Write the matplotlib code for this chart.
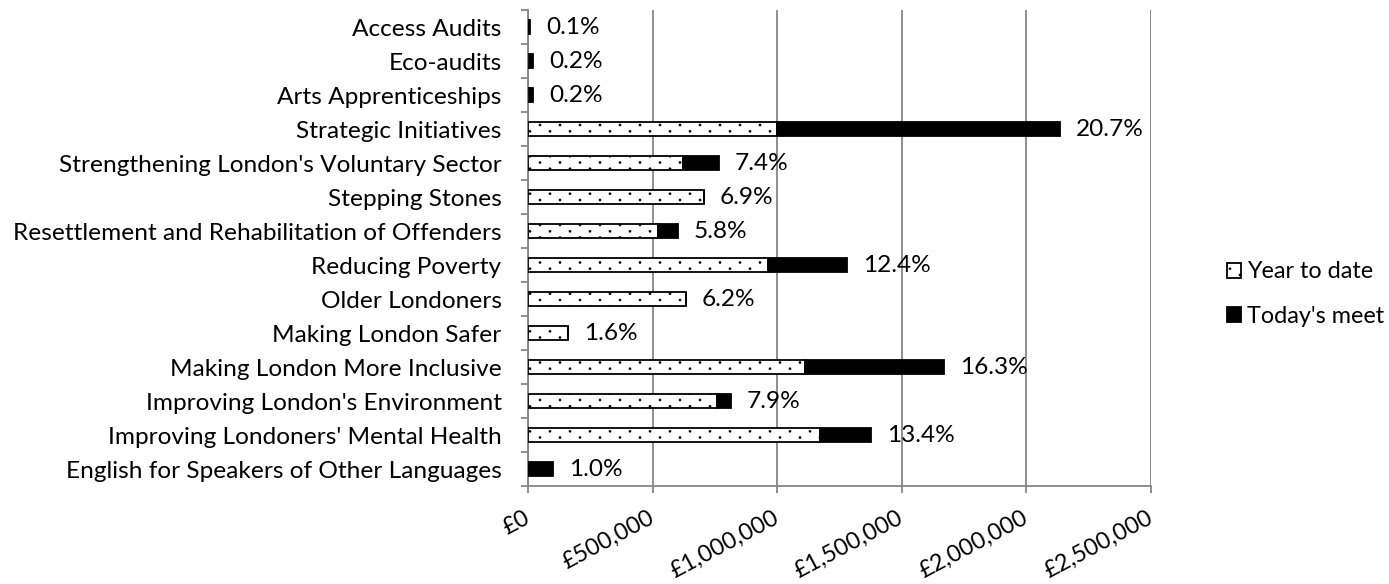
import matplotlib
matplotlib.use("Agg")
import matplotlib.pyplot as plt
import matplotlib.hatch as mhatch
from matplotlib.path import Path
from matplotlib.ticker import FuncFormatter, FixedLocator
import numpy as np

categories = [
    "English for Speakers of Other Languages",
    "Improving Londoners' Mental Health",
    "Improving London's Environment",
    "Making London More Inclusive",
    "Making London Safer",
    "Older Londoners",
    "Reducing Poverty",
    "Resettlement and Rehabilitation of Offenders",
    "Stepping Stones",
    "Strengthening London's Voluntary Sector",
    "Strategic Initiatives",
    "Arts Apprenticeships",
    "Eco-audits",
    "Access Audits",
]
year_to_date = [0, 1172000, 757000, 1112000, 160000, 634000, 963000,
                522000, 706000, 620000, 1000000, 8000, 10000, 4000]
todays_meet = [102000, 205000, 58000, 558000, 0, 0, 317000,
               78000, 0, 146000, 1133000, 12000, 10000, 6000]
pct_labels = ["1.0%", "13.4%", "7.9%", "16.3%", "1.6%", "6.2%", "12.4%",
              "5.8%", "6.9%", "7.4%", "20.7%", "0.2%", "0.2%", "0.1%"]
x_ticks = [0, 500000, 1000000, 1500000, 2000000, 2500000]


# sparse staggered dot pattern (Excel "5%" style) used for the '.' hatch
class SparseDots(mhatch.HatchPatternBase):
    ncols = 5
    nrows = 16
    radius = 0.011

    def __init__(self, hatch, density):
        circ = Path.unit_circle()
        self.cv = circ.vertices * self.radius
        self.cc = circ.codes
        self.pts = []
        if hatch.count('.') > 0:
            for j in range(self.nrows + 1):
                off = 0.5 / self.ncols if j % 2 else 0.0
                for i in range(self.ncols + 1):
                    self.pts.append((i / self.ncols + off, j / self.nrows))
        self.num_vertices = len(self.pts) * len(self.cv)

    def set_vertices_and_codes(self, vertices, codes):
        n = len(self.cv)
        for k, (x, y) in enumerate(self.pts):
            vertices[k * n:(k + 1) * n] = self.cv + (x, y)
            codes[k * n:(k + 1) * n] = self.cc


mhatch._hatch_types = [t for t in mhatch._hatch_types
                       if t is not mhatch.SmallFilledCircles] + [SparseDots]

FONT = ["Lato", "DejaVu Sans"]
FS = 17.6
GREY = "#868686"

plt.rcParams["font.family"] = FONT
plt.rcParams["hatch.linewidth"] = 0.3

fig = plt.figure(figsize=(13.89, 5.84), dpi=100)
ax = fig.add_axes([528 / 1389, 1 - 486 / 584, (1151 - 528) / 1389, 476 / 584])

y = np.arange(len(categories))
h = 0.40
ytd = np.array(year_to_date)
tdm = np.array(todays_meet)
b1 = ax.barh(y, ytd, height=h, color="white", edgecolor="black", hatch=".",
             linewidth=1.3, label="Year to date", zorder=3)
b2 = ax.barh(y, tdm, left=ytd, height=h, color="black", edgecolor="black",
             linewidth=1.3, label="Today's meet", zorder=3)

for yi, tot, lab in zip(y, ytd + tdm, pct_labels):
    ax.annotate(lab, (tot, yi), xytext=(11.5, 0), textcoords="offset points",
                ha="left", va="center", fontsize=FS, color="black")

ax.set_xlim(0, 2500000)
ax.set_ylim(-0.5, len(categories) - 0.5)
ax.xaxis.set_major_locator(FixedLocator(x_ticks))
ax.xaxis.set_major_formatter(FuncFormatter(lambda v, p: "£{:,.0f}".format(v)))
ax.set_yticks(y)
ax.set_yticklabels(categories, fontsize=FS)
ax.set_yticks(np.arange(-0.5, len(categories)), minor=True)
ax.tick_params(axis="y", which="major", length=0, pad=19)
ax.tick_params(axis="y", which="minor", length=5, width=1.3, color=GREY, direction="out")
ax.tick_params(axis="x", which="major", length=5, width=1.3, color=GREY,
               direction="out", pad=17, labelsize=16.8)
for lab in ax.get_xticklabels():
    lab.set_rotation(28)
    lab.set_rotation_mode("anchor")
    lab.set_ha("right")
    lab.set_va("center")

ax.grid(axis="x", color=GREY, linewidth=1.3, zorder=0)
ax.set_axisbelow(True)
for s in ["top", "right"]:
    ax.spines[s].set_visible(False)
for s in ["left", "bottom"]:
    ax.spines[s].set_color(GREY)
    ax.spines[s].set_linewidth(1.3)

leg = fig.legend(handles=[b1, b2], labels=["Year to date", "Today's meet"],
                 loc="center left", bbox_to_anchor=(1218 / 1389, 1 - 294 / 584),
                 frameon=False, fontsize=16.8, handlelength=0.6, handleheight=0.6,
                 handletextpad=0.25, labelspacing=1.0, borderaxespad=0)

fig.savefig("out.png", dpi=100)
